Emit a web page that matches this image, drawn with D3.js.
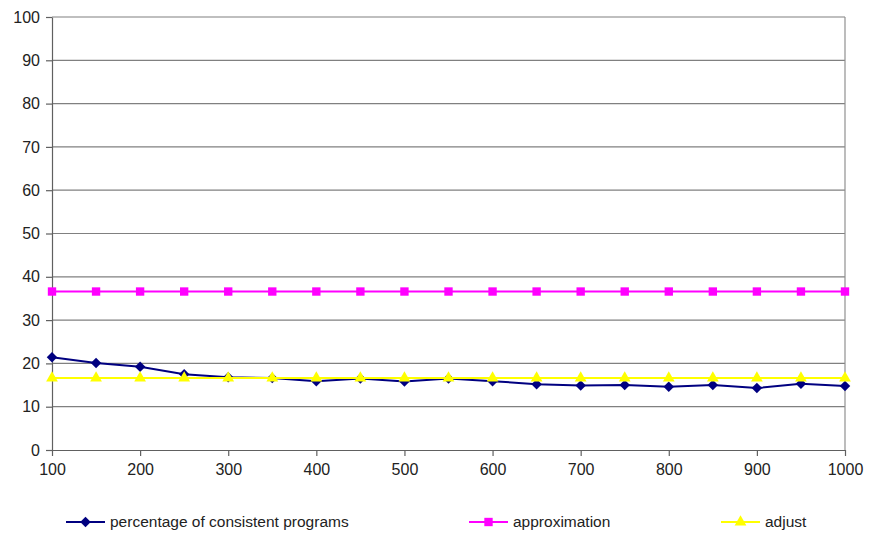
<!DOCTYPE html>
<html>
<head>
<meta charset="utf-8">
<script src="https://cdn.jsdelivr.net/npm/d3@7"></script>
<style>
  body { margin: 0; background: #fff; }
</style>
</head>
<body>
<div class="chart"></div>
<script>
// data
const sizes = [100, 150, 200, 250, 300, 350, 400, 450, 500, 550, 600, 650, 700, 750, 800, 850, 900, 950, 1000];
const consistent = [21.4, 20.1, 19.2, 17.5, 16.8, 16.6, 15.9, 16.5, 15.8, 16.5, 15.9, 15.2, 14.9, 15.0, 14.6, 15.0, 14.3, 15.3, 14.8];
const approximation = [36.6, 36.6, 36.6, 36.6, 36.6, 36.6, 36.6, 36.6, 36.6, 36.6, 36.6, 36.6, 36.6, 36.6, 36.6, 36.6, 36.6, 36.6, 36.6];
const adjust = [16.6, 16.6, 16.6, 16.6, 16.6, 16.6, 16.6, 16.6, 16.6, 16.6, 16.6, 16.6, 16.6, 16.6, 16.6, 16.6, 16.6, 16.6, 16.6];
const xTicks = [100, 200, 300, 400, 500, 600, 700, 800, 900, 1000];
const yTicks = [0, 10, 20, 30, 40, 50, 60, 70, 80, 90, 100];

const series = [
  { name: 'percentage of consistent programs', values: consistent, color: '#000080', shape: 'diamond' },
  { name: 'approximation', values: approximation, color: '#ff00ff', shape: 'square' },
  { name: 'adjust', values: adjust, color: '#ffff00', shape: 'triangle' }
];

const width = 870, height = 550;
const margin = { left: 52, right: 25, top: 17, bottom: 100 };

const svg = d3.select('.chart').append('svg')
  .attr('width', width)
  .attr('height', height)
  .attr('font-family', '"Liberation Sans", Arial, sans-serif');

const x = d3.scaleLinear().domain([100, 1000]).range([margin.left, width - margin.right]);
const y = d3.scaleLinear().domain([0, 100]).range([height - margin.bottom, margin.top]);

// gridlines
svg.append('g')
  .selectAll('line')
  .data(yTicks.filter(d => d > 0))
  .join('line')
    .attr('x1', x(100)).attr('x2', x(1000))
    .attr('y1', d => y(d)).attr('y2', d => y(d))
    .attr('stroke', '#808080')
    .attr('stroke-width', 1.2);

// right border of plot area
svg.append('line')
  .attr('x1', x(1000)).attr('x2', x(1000))
  .attr('y1', y(100)).attr('y2', y(0))
  .attr('stroke', '#909090')
  .attr('stroke-width', 1.2);

// axes
const xAxis = svg.append('g')
  .attr('transform', `translate(0,${y(0)})`)
  .call(d3.axisBottom(x).tickValues(xTicks).tickFormat(d3.format('d'))
    .tickSize(6).tickPadding(8).tickSizeOuter(0));
const yAxis = svg.append('g')
  .attr('transform', `translate(${x(100)},0)`)
  .call(d3.axisLeft(y).tickValues(yTicks).tickSize(6).tickPadding(6).tickSizeOuter(0));

[xAxis, yAxis].forEach(a => {
  a.select('.domain').attr('stroke', '#606060').attr('stroke-width', 1.2);
  a.selectAll('.tick line').attr('stroke', '#606060').attr('stroke-width', 1.2);
  a.selectAll('.tick text').attr('font-size', '16px').attr('fill', '#222');
});

const symbolFor = {
  diamond: d3.symbol().type(d3.symbolDiamond2 || d3.symbolDiamond).size(70),
  square: d3.symbol().type(d3.symbolSquare).size(70),
  triangle: d3.symbol().type(d3.symbolTriangle).size(60)
};

const line = d3.line()
  .x((d, i) => x(sizes[i]))
  .y(d => y(d));

series.forEach(s => {
  const g = svg.append('g');
  g.append('path')
    .datum(s.values)
    .attr('fill', 'none')
    .attr('stroke', s.color)
    .attr('stroke-width', 2)
    .attr('d', line);
  g.selectAll('path.m')
    .data(s.values)
    .join('path')
      .attr('class', 'm')
      .attr('transform', (d, i) => `translate(${x(sizes[i])},${y(d)})`)
      .attr('d', symbolFor[s.shape])
      .attr('fill', s.color);
});

// legend
const legendX = [66, 469, 721];
const legend = svg.append('g')
  .attr('transform', `translate(0,${height - 28})`);

series.forEach((s, i) => {
  const g = legend.append('g').attr('transform', `translate(${legendX[i]},0)`);
  g.append('line')
    .attr('x1', 0).attr('x2', 39)
    .attr('y1', 0).attr('y2', 0)
    .attr('stroke', s.color)
    .attr('stroke-width', 2);
  g.append('path')
    .attr('transform', 'translate(19.5,0)')
    .attr('d', symbolFor[s.shape])
    .attr('fill', s.color);
  g.append('text')
    .attr('x', 44)
    .attr('y', 0)
    .attr('dy', '0.35em')
    .attr('font-size', '15.5px')
    .attr('fill', '#222')
    .text(s.name);
});
</script>
</body>
</html>
